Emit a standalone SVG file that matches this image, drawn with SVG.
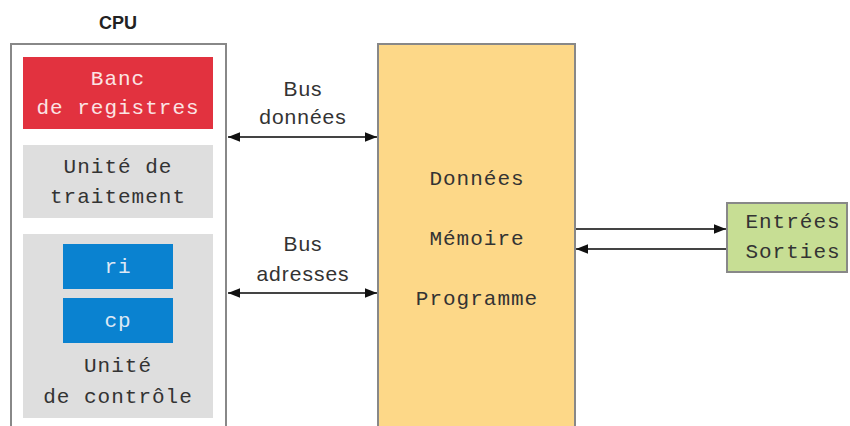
<svg xmlns="http://www.w3.org/2000/svg" width="850" height="426" viewBox="0 0 850 426">
<style>
.mono{font-family:"Liberation Mono","DejaVu Sans Mono",monospace;font-size:21px;letter-spacing:1px;text-anchor:middle;fill:#333}
.sans{font-family:"Liberation Sans",Arial,sans-serif;font-size:21px;letter-spacing:1px;text-anchor:middle;fill:#333}
.frame{fill:#fff;stroke:#888;stroke-width:2}
.conn{stroke:#444;stroke-width:2;fill:none}
</style>
<defs>
<marker id="ah" viewBox="0 0 10 10" refX="10" refY="5" markerWidth="6" markerHeight="6" orient="auto-start-reverse">
<path d="M0,1 L10,5 L0,9 z" fill="#111"/>
</marker>
</defs>
<rect width="850" height="426" fill="#fff"/>
<g id="cpu">
<text x="118" y="29" font-family="Liberation Sans,Arial,sans-serif" font-size="18" font-weight="bold" text-anchor="middle" fill="#222">CPU</text>
<rect class="frame" x="11" y="44" width="215" height="400"/>
</g>
<g id="banc">
<rect x="23" y="57" width="190" height="72" fill="#e2323f"/>
<text class="mono" x="118" y="85" style="fill:#fbe4e4">Banc</text>
<text class="mono" x="118" y="114" style="fill:#fbe4e4">de registres</text>
</g>
<g id="traitement">
<rect x="23" y="145" width="190" height="73" fill="#dedede"/>
<text class="mono" x="118" y="173">Unité de</text>
<text class="mono" x="118" y="203">traitement</text>
</g>
<g id="controle">
<rect x="23" y="234" width="190" height="184" fill="#dedede"/>
<text class="mono" x="118" y="372">Unité</text>
<text class="mono" x="118" y="403">de contrôle</text>
</g>
<g id="ri">
<rect x="63" y="244" width="110" height="45" fill="#0a82d0"/>
<text class="mono" x="118" y="273" style="fill:#dde8f5">ri</text>
</g>
<g id="cp">
<rect x="63" y="298" width="110" height="45" fill="#0a82d0"/>
<text class="mono" x="118" y="327" style="fill:#dde8f5">cp</text>
</g>
<g id="memoire">
<rect x="378" y="44" width="197" height="400" fill="#fdd888" stroke="#888" stroke-width="2"/>
<text class="mono" x="477" y="185">Données</text>
<text class="mono" x="477" y="245">Mémoire</text>
<text class="mono" x="477" y="305">Programme</text>
</g>
<g id="es">
<rect x="727" y="203" width="120" height="69" fill="#c7de94" stroke="#888" stroke-width="2"/>
<text class="mono" x="793" y="228">Entrées</text>
<text class="mono" x="793" y="258">Sorties</text>
</g>
<g id="connectors">
<line class="conn" x1="228" y1="137" x2="377" y2="137" marker-start="url(#ah)" marker-end="url(#ah)"/>
<line class="conn" x1="228" y1="293" x2="377" y2="293" marker-start="url(#ah)" marker-end="url(#ah)"/>
<line class="conn" x1="576" y1="229" x2="726" y2="229" marker-end="url(#ah)"/>
<line class="conn" x1="726" y1="249" x2="576" y2="249" marker-end="url(#ah)"/>
<text class="sans" x="303" y="96">Bus</text>
<text class="sans" x="303" y="124">données</text>
<text class="sans" x="303" y="251">Bus</text>
<text class="sans" x="303" y="281">adresses</text>
</g>
</svg>
